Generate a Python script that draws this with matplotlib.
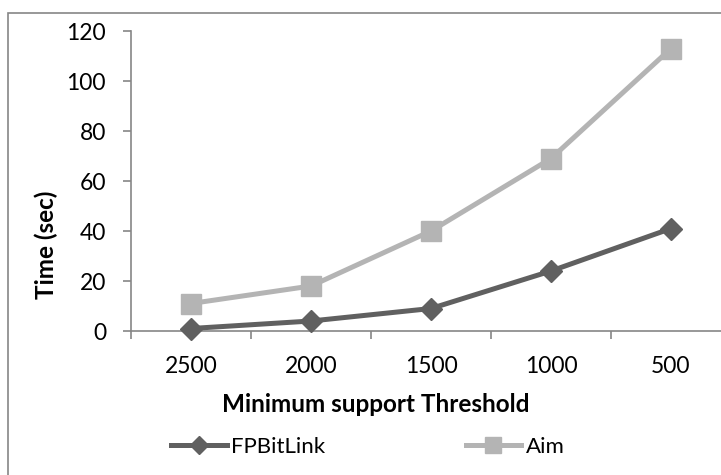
import matplotlib
matplotlib.use("Agg")
import matplotlib.pyplot as plt
from matplotlib.patches import Rectangle
from matplotlib.ticker import FixedLocator

plt.rcParams['font.family'] = ['Lato', 'DejaVu Sans']

# Running time per minimum support threshold
thresholds = ["2500", "2000", "1500", "1000", "500"]
fpbitlink = [1, 4, 9, 24, 41]
aim = [11, 18, 40, 69, 113]

axis_gray = '#868686'
dark = '#606060'
light = '#b4b4b4'

fig = plt.figure(figsize=(7.21, 4.75), dpi=100)

# chart border
fig.patches.append(Rectangle((8 / 721, -0.1), 1.2, 1 - 13 / 475 + 0.1,
                             transform=fig.transFigure, fill=False,
                             edgecolor=axis_gray, linewidth=1.2))

ax = fig.add_axes([131 / 721, 1 - 331 / 475, 600 / 721, 300 / 475])
x = list(range(len(thresholds)))

ax.plot(x, fpbitlink, color=dark, linewidth=3.6, marker='D', markersize=11,
        label='FPBitLink', clip_on=False, zorder=3)
ax.plot(x, aim, color=light, linewidth=3.6, marker='s', markersize=14,
        label='Aim', clip_on=False, zorder=2)

ax.set_xlim(-0.5, 4.5)
ax.set_ylim(0, 120)
ax.set_yticks(range(0, 121, 20))
ax.set_xticks(x)
ax.set_xticklabels(thresholds)
ax.xaxis.set_minor_locator(FixedLocator([-0.5, 0.5, 1.5, 2.5, 3.5, 4.5]))

for side in ['top', 'right']:
    ax.spines[side].set_visible(False)
for side in ['left', 'bottom']:
    ax.spines[side].set_color(axis_gray)
    ax.spines[side].set_linewidth(1.2)

ax.tick_params(axis='y', which='major', direction='out', length=6,
               width=1.2, color=axis_gray, pad=12, labelsize=16.5)
ax.tick_params(axis='x', which='major', length=0, pad=18, labelsize=16.5)
ax.tick_params(axis='x', which='minor', direction='out', length=6,
               width=1.2, color=axis_gray)

fig.text(376 / 721, 1 - 405 / 475, 'Minimum support Threshold',
         ha='center', va='center', fontsize=17.5, fontweight='bold')
fig.text(46 / 721, 1 - 245 / 475, 'Time (sec)', rotation=90,
         ha='center', va='center', fontsize=17.5, fontweight='bold')

fig.legend(loc='center', bbox_to_anchor=(368 / 721, 1 - 447 / 475), ncol=2,
           frameon=False, fontsize=16, handlelength=2.5, handletextpad=0.22,
           columnspacing=6.3, markerscale=0.8)

fig.savefig('out.png', dpi=100)
